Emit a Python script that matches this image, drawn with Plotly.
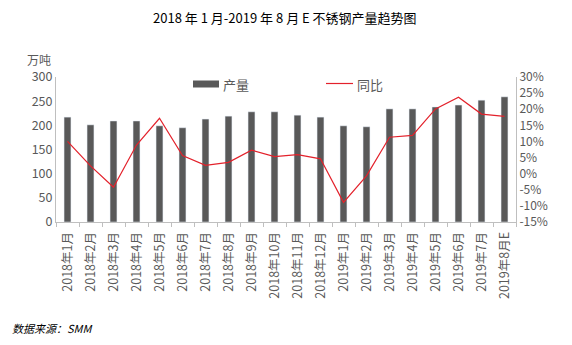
import plotly.graph_objects as go

categories = ["2018年1月", "2018年2月", "2018年3月", "2018年4月", "2018年5月", "2018年6月",
              "2018年7月", "2018年8月", "2018年9月", "2018年10月", "2018年11月", "2018年12月",
              "2019年1月", "2019年2月", "2019年3月", "2019年4月", "2019年5月", "2019年6月",
              "2019年7月", "2019年8月E"]
output = [217, 201, 209, 209, 199, 195, 213, 219, 228, 228, 221, 217,
          199, 197, 234, 234, 238, 242, 252, 259]
yoy = [10.0, 2.4, -4.2, 8.9, 17.2, 5.6, 2.6, 3.5, 7.3, 5.3, 5.9, 4.6,
       -8.9, -0.7, 11.3, 11.9, 20.1, 23.7, 18.5, 17.8]
left_ticks = [0, 50, 100, 150, 200, 250, 300]
right_ticks = [-15, -10, -5, 0, 5, 10, 15, 20, 25, 30]

FONT = "Noto Sans CJK SC"
GRAY = "#595959"
BAR = "#595959"
RED = "#e3212b"
AX = "#bfbfbf"

fig = go.Figure()
fig.add_trace(go.Bar(x=categories, y=output, name="产量", marker_color=BAR, width=0.3,
                     yaxis="y"))
fig.add_trace(go.Scatter(x=categories, y=yoy, name="同比", mode="lines",
                         line=dict(color=RED, width=1.2), yaxis="y2"))

W, H = 572, 345
L, R, T, B = 56, 56, 77, 123
pw, ph = W - L - R, H - T - B

def ppx(x):
    return (x - L) / pw

def ppy(y):
    return (H - B - y) / ph

fig.update_layout(
    width=W, height=H, autosize=False,
    margin=dict(l=L, r=R, t=T, b=B),
    paper_bgcolor="white", plot_bgcolor="white",
    showlegend=False,
    font=dict(family=FONT, color=GRAY, size=12),
    xaxis=dict(type="category", tickangle=-90, showline=True, linecolor=AX, linewidth=1,
               ticks="outside", tickson="boundaries", ticklen=4, tickcolor=AX,
               ticklabelstandoff=4,
               tickfont=dict(size=12.5, color=GRAY, family=FONT), showgrid=False),
    yaxis=dict(range=[0, 300], tickvals=left_ticks, showline=True, linecolor=AX, linewidth=1,
               showgrid=False, zeroline=False, tickfont=dict(size=12.5, color=GRAY, family=FONT),
               ticks=""),
    yaxis2=dict(range=[-15, 30], tickvals=right_ticks, ticktext=[f"{v}%" for v in right_ticks],
                overlaying="y", side="right", showline=True, linecolor=AX, linewidth=1,
                showgrid=False, zeroline=False, tickfont=dict(size=12, color=GRAY, family=FONT)),
)

annotations = [
    dict(text="2018 年 1 月-2019 年 8 月 E 不锈钢产量趋势图", x=ppx(285), y=ppy(17),
         xanchor="center", font=dict(size=13, color="#000000", family=FONT)),
    dict(text="万吨", x=ppx(39), y=ppy(59), xanchor="center",
         font=dict(size=12, color=GRAY, family=FONT)),
    dict(text="产量", x=ppx(221), y=ppy(84), xanchor="left",
         font=dict(size=13, color=GRAY, family=FONT)),
    dict(text="同比", x=ppx(355), y=ppy(84), xanchor="left",
         font=dict(size=13, color=GRAY, family=FONT)),
    dict(text="<i>数据来源：SMM</i>", x=ppx(10), y=ppy(328), xanchor="left",
         font=dict(size=11, color="#000000", family=FONT)),
]
for a in annotations:
    a.update(xref="paper", yref="paper", showarrow=False, yanchor="middle")

fig.update_layout(annotations=annotations)

fig.add_shape(type="rect", xref="paper", yref="paper", x0=ppx(193), x1=ppx(219),
              y0=ppy(87.5), y1=ppy(80.5), fillcolor=BAR, line=dict(width=0))
fig.add_shape(type="line", xref="paper", yref="paper", x0=ppx(326), x1=ppx(353),
              y0=ppy(83.5), y1=ppy(83.5), line=dict(color=RED, width=1.2))

fig.write_html("out.html")
